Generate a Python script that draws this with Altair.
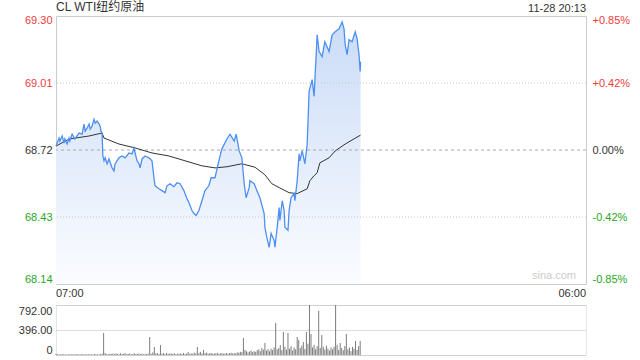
import json
import altair as alt
import pandas as pd

# ---------------- data ----------------
prev_close = 68.72
y_lo, y_hi = 68.136, 69.304
price_ticks = [68.136, 68.428, 68.72, 69.012, 69.304]
pct_labels = ["-0.85%", "-0.42%", "0.00%", "+0.42%", "+0.85%"]
x_end = 1380  # minutes from 07:00 to 06:00 next day
time_ticks = [0, 1380]
time_labels = ["07:00", "06:00"]
vol_ticks = [0, 396, 792]
title_text = "CL WTI纽约原油"
stamp_text = "11-28 20:13"
watermark = "sina.com"

# minutes since 07:00 and last price
price_min = [0, 8, 10, 16, 21, 23, 29, 34, 36, 42, 49, 60, 68, 73, 76, 81, 86, 89, 94, 99,
             102, 107, 112, 115, 117, 120, 122, 125, 128, 133, 138, 146, 151, 154, 164, 172,
             180, 190, 198, 203, 206, 211, 216, 219, 224, 232, 242, 250, 253, 256, 258, 268,
             276, 284, 289, 297, 307, 315, 323, 333, 341, 346, 354, 359, 365, 372, 380, 388,
             398, 404, 414, 424, 432, 445, 453, 464, 469, 477, 484, 490, 495, 503, 505, 516,
             523, 531, 542, 544, 549, 555, 560, 568, 570, 576, 581, 583, 589, 594, 596, 604,
             607, 612, 620, 622, 628, 633, 635, 641, 648, 654, 659, 667, 672, 680, 685, 693,
             700, 711, 719, 727, 737, 745, 750, 753, 758, 763, 771, 779, 784, 789, 792, 793]
price_val = [68.737, 68.772, 68.759, 68.781, 68.750, 68.768, 68.746, 68.772, 68.759, 68.789,
             68.768, 68.794, 68.789, 68.833, 68.802, 68.815, 68.833, 68.811, 68.824, 68.854,
             68.837, 68.846, 68.833, 68.824, 68.802, 68.794, 68.694, 68.673, 68.686, 68.660,
             68.681, 68.642, 68.629, 68.660, 68.686, 68.694, 68.686, 68.707, 68.703, 68.729,
             68.707, 68.673, 68.660, 68.642, 68.681, 68.694, 68.686, 68.673, 68.629, 68.586,
             68.564, 68.551, 68.543, 68.534, 68.564, 68.573, 68.560, 68.577, 68.573, 68.543,
             68.508, 68.491, 68.456, 68.443, 68.435, 68.456, 68.499, 68.543, 68.564, 68.599,
             68.599, 68.673, 68.725, 68.768, 68.789, 68.759, 68.789, 68.716, 68.686, 68.573,
             68.512, 68.556, 68.586, 68.573, 68.543, 68.512, 68.443, 68.383, 68.339, 68.296,
             68.357, 68.326, 68.296, 68.383, 68.469, 68.413, 68.499, 68.456, 68.383, 68.370,
             68.456, 68.512, 68.530, 68.499, 68.586, 68.703, 68.673, 68.716, 68.660, 68.746,
             68.976, 69.027, 68.954, 69.222, 69.149, 69.127, 69.192, 69.149, 69.222, 69.235,
             69.248, 69.278, 69.248, 69.179, 69.136, 69.201, 69.192, 69.235, 69.205, 69.136,
             69.062, 69.105]

# average price line
avg_min = [0, 34, 86, 120, 125, 164, 206, 250, 294, 336, 380, 414, 445, 484, 518, 544, 562,
           581, 607, 628, 654, 661, 672, 680, 687, 711, 727, 753, 793]
avg_val = [68.737, 68.768, 68.781, 68.794, 68.772, 68.746, 68.729, 68.707, 68.694, 68.673,
           68.651, 68.642, 68.647, 68.660, 68.645, 68.612, 68.573, 68.556, 68.534, 68.530,
           68.551, 68.586, 68.608, 68.621, 68.664, 68.686, 68.716, 68.746, 68.785]

# volume, one bar per 4-minute slot
vol_val = [20, 12, 8, 10, 15, 9, 11, 7, 10, 13,
           9, 12, 8, 14, 10, 11, 9, 16, 8, 12,
           10, 13, 9, 11, 8, 15, 12, 10, 9, 14,
           18, 348, 30, 14, 12, 20, 16, 22, 14, 25,
           18, 12, 26, 15, 20, 30, 14, 18, 22, 12,
           16, 28, 13, 19, 24, 14, 20, 11, 17, 15,
           22, 285, 18, 40, 127, 25, 30, 16, 158, 20,
           28, 14, 35, 18, 22, 26, 15, 30, 12, 20,
           18, 24, 14, 30, 16, 22, 45, 18, 26, 20,
           35, 24, 127, 30, 50, 22, 80, 28, 40, 20,
           25, 32, 18, 28, 22, 35, 20, 26, 30, 18,
           24, 30, 20, 28, 35, 22, 30, 26, 40, 35,
           50, 45, 270, 80, 60, 40, 55, 70, 45, 60,
           50, 75, 90, 60, 110, 85, 190, 70, 95, 60,
           100, 80, 120, 507, 90, 110, 158, 75, 364, 130,
           85, 348, 100, 140, 70, 120, 90, 285, 238, 110,
           150, 206, 95, 364, 180, 792, 333, 120, 160, 90,
           140, 697, 110, 317, 130, 85, 150, 100, 70, 120,
           90, 130, 792, 160, 80, 190, 110, 75, 140, 333,
           90, 120, 60, 127, 100, 222, 80, 140, 222]
vol_min = [4 * i for i in range(len(vol_val))]

# ---------------- frames ----------------
df_price = pd.DataFrame({"t": price_min, "p": price_val})
df_avg = pd.DataFrame({"t": avg_min, "p": avg_val})
df_vol = pd.DataFrame({"t": vol_min, "v": vol_val})
df_dot = pd.DataFrame({"p": [price_ticks[1], price_ticks[3]]})
df_zero = pd.DataFrame({"p": [prev_close]})
df_time = pd.DataFrame({"t": time_ticks, "s": time_labels})

FONT = "Liberation Sans, Arial, Noto Sans CJK SC, sans-serif"
RED, GREEN, DARK = "#f03c3c", "#26a626", "#333333"
label_color = {
    "condition": [
        {"test": f"datum.value > {prev_close + 0.005}", "value": RED},
        {"test": f"datum.value < {prev_close - 0.005}", "value": GREEN},
    ],
    "value": DARK,
}
label_offset = {
    "condition": [
        {"test": f"datum.value > {y_hi - 0.01}", "value": 4},
        {"test": f"datum.value < {y_lo + 0.01}", "value": -5},
    ],
    "value": 0,
}

xscale = alt.Scale(domain=[0, x_end], nice=False, zero=False)
yscale = alt.Scale(domain=[y_lo, y_hi], nice=False, zero=False)

left_axis = alt.Axis(values=price_ticks, title=None, grid=False, ticks=False, domain=False,
                     format=".2f", labelFlush=False, labelPadding=4, labelColor=label_color,
                     labelOffset=label_offset)

right_axis = alt.Axis(values=price_ticks, orient="right", title=None, grid=False, ticks=False,
                      domain=False, labelFlush=False, labelPadding=6, labelColor=label_color,
                      labelOffset=label_offset,
                      labelExpr=f"{json.dumps(pct_labels)}[round(datum.index*4)]")

area = alt.Chart(df_price).mark_area(
    line=False,
    color=alt.Gradient(gradient="linear", x1=0, x2=0, y1=0, y2=1,
                       stops=[alt.GradientStop(color="#cadcf7", offset=0),
                              alt.GradientStop(color="#fbfcff", offset=1)])
).encode(
    x=alt.X("t:Q", scale=xscale, axis=None),
    y=alt.Y("p:Q", scale=yscale, axis=left_axis),
    y2=alt.Y2Datum(y_lo),
)

dots = alt.Chart(df_dot).mark_rule(color="#c8c8c8", strokeDash=[1, 2], strokeWidth=1).encode(
    y=alt.Y("p:Q", scale=yscale, axis=None))
zero = alt.Chart(df_zero).mark_rule(color="#aaaaaa", strokeDash=[3, 3], strokeWidth=1).encode(
    y=alt.Y("p:Q", scale=yscale, axis=None))

avg = alt.Chart(df_avg).mark_line(color="#333333", strokeWidth=1).encode(
    x=alt.X("t:Q", scale=xscale, axis=None),
    y=alt.Y("p:Q", scale=yscale, axis=None))

line = alt.Chart(df_price).mark_line(color="#4d8ff2", strokeWidth=1.3).encode(
    x=alt.X("t:Q", scale=xscale, axis=None),
    y=alt.Y("p:Q", scale=yscale, axis=right_axis))

head = alt.Chart(pd.DataFrame({"s": [title_text]})).mark_text(
    align="left", baseline="bottom", dy=-2, font=FONT, fontSize=12, color=DARK
).encode(x=alt.XDatum(0, axis=None), y=alt.YDatum(y_hi, axis=None), text="s:N")

stamp = alt.Chart(pd.DataFrame({"s": [stamp_text]})).mark_text(
    align="right", baseline="bottom", dy=-2, font=FONT, fontSize=11, color=DARK
).encode(x=alt.XDatum(x_end, axis=None), y=alt.YDatum(y_hi, axis=None), text="s:N")

wm = alt.Chart(pd.DataFrame({"s": [watermark]})).mark_text(
    align="right", baseline="bottom", dx=-10, dy=-3, font=FONT, fontSize=11, color="#cccccc"
).encode(x=alt.XDatum(x_end, axis=None), y=alt.YDatum(y_lo, axis=None), text="s:N")

tl_left = alt.Chart(df_time.iloc[:1]).mark_text(
    align="left", baseline="top", dy=4, font=FONT, fontSize=11, color=DARK
).encode(x=alt.X("t:Q", scale=xscale, axis=None), y=alt.YDatum(y_lo, axis=None), text="s:N")
tl_right = alt.Chart(df_time.iloc[1:]).mark_text(
    align="right", baseline="top", dy=4, font=FONT, fontSize=11, color=DARK
).encode(x=alt.X("t:Q", scale=xscale, axis=None), y=alt.YDatum(y_lo, axis=None), text="s:N")

main = alt.layer(area, dots, zero, avg, line, head, stamp, wm, tl_left, tl_right).resolve_axis(
    y="independent").properties(width=530, height=268)

vol = alt.Chart(df_vol).mark_rule(color="#6e6e6e", strokeWidth=1, opacity=0.9).encode(
    x=alt.X("t:Q", scale=xscale, axis=None),
    y=alt.Y("v:Q", scale=alt.Scale(domain=[0, 792], nice=False),
            axis=alt.Axis(values=vol_ticks, title=None, ticks=False, domain=False,
                          labelFlush=True, labelPadding=4, labelColor=DARK,
                          grid=True, gridColor="#bbbbbb", gridDash=[1, 1],
                          labelExpr="datum.value == 0 ? '0' : format(datum.value, '.2f')")),
    y2=alt.Y2Datum(0),
).properties(width=530, height=50,
             view=alt.ViewBackground(stroke="#cccccc", strokeDash=[1, 1]))

chart = alt.vconcat(main, vol, spacing=4).properties(
    padding={"left": 17, "top": 0, "right": 5, "bottom": 0}
).configure_axis(labelFont=FONT, labelFontSize=11).configure_view(stroke="#cccccc")

chart.save("out.html", embed_options={"renderer": "svg", "actions": False})
